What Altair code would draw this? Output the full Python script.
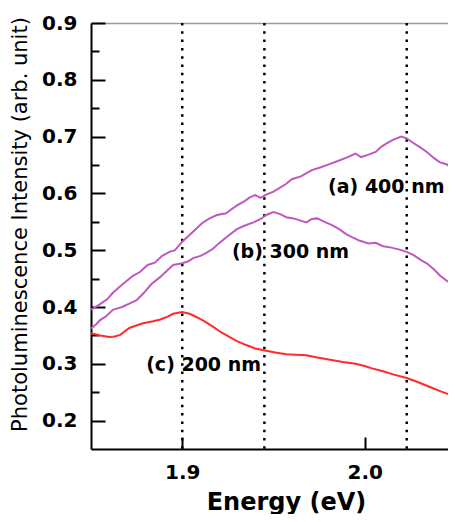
import altair as alt
import pandas as pd

# ---- data ----
energy_a = [1.850, 1.855, 1.859, 1.862, 1.867, 1.873, 1.877, 1.881, 1.885, 1.889,
            1.893, 1.896, 1.900, 1.905, 1.911, 1.915, 1.919, 1.924, 1.927, 1.930,
            1.934, 1.937, 1.940, 1.943, 1.946, 1.950, 1.953, 1.957, 1.960, 1.965,
            1.971, 1.976, 1.981, 1.986, 1.990, 1.995, 1.998, 2.001, 2.006, 2.009,
            2.012, 2.016, 2.020, 2.023, 2.026, 2.030, 2.034, 2.038, 2.041, 2.045, 2.050]
pl_a = [0.395, 0.405, 0.414, 0.425, 0.439, 0.455, 0.462, 0.474, 0.478, 0.490,
        0.497, 0.500, 0.515, 0.530, 0.548, 0.556, 0.562, 0.565, 0.572, 0.579,
        0.586, 0.593, 0.597, 0.592, 0.598, 0.603, 0.609, 0.617, 0.625, 0.630,
        0.641, 0.646, 0.652, 0.658, 0.663, 0.670, 0.664, 0.667, 0.673, 0.682,
        0.688, 0.695, 0.700, 0.697, 0.690, 0.682, 0.673, 0.662, 0.655, 0.651, 0.638]

energy_b = [1.850, 1.853, 1.855, 1.858, 1.862, 1.865, 1.867, 1.871, 1.875, 1.879,
            1.883, 1.888, 1.892, 1.895, 1.900, 1.903, 1.906, 1.910, 1.913, 1.917,
            1.920, 1.925, 1.930, 1.934, 1.939, 1.943, 1.946, 1.950, 1.954, 1.957,
            1.961, 1.964, 1.968, 1.971, 1.974, 1.978, 1.982, 1.986, 1.990, 1.993,
            1.997, 2.002, 2.006, 2.010, 2.014, 2.019, 2.023, 2.027, 2.031, 2.034,
            2.038, 2.041, 2.045, 2.050]
pl_b = [0.362, 0.370, 0.377, 0.383, 0.395, 0.398, 0.400, 0.406, 0.412, 0.425,
        0.440, 0.453, 0.465, 0.474, 0.477, 0.480, 0.486, 0.490, 0.495, 0.503,
        0.512, 0.525, 0.537, 0.543, 0.549, 0.555, 0.562, 0.567, 0.563, 0.558,
        0.556, 0.553, 0.549, 0.555, 0.556, 0.550, 0.544, 0.537, 0.528, 0.523,
        0.517, 0.512, 0.513, 0.507, 0.505, 0.501, 0.497, 0.491, 0.482, 0.477,
        0.466, 0.456, 0.446, 0.439]

energy_c = [1.850, 1.855, 1.860, 1.863, 1.866, 1.871, 1.878, 1.884, 1.888, 1.892,
            1.895, 1.900, 1.904, 1.908, 1.912, 1.917, 1.921, 1.926, 1.930, 1.935,
            1.940, 1.946, 1.951, 1.957, 1.962, 1.968, 1.974, 1.981, 1.988, 1.995,
            2.000, 2.004, 2.010, 2.016, 2.023, 2.029, 2.035, 2.042, 2.050]
pl_c = [0.354, 0.350, 0.347, 0.348, 0.351, 0.363, 0.371, 0.375, 0.378, 0.383,
        0.388, 0.391, 0.388, 0.382, 0.375, 0.365, 0.356, 0.347, 0.340, 0.333,
        0.327, 0.323, 0.320, 0.317, 0.316, 0.315, 0.311, 0.307, 0.303, 0.300,
        0.296, 0.292, 0.287, 0.281, 0.275, 0.268, 0.260, 0.251, 0.242]

vline_energy = [1.9, 1.945, 2.023]

label_text = ["(a) 400 nm", "(b) 300 nm", "(c) 200 nm"]
label_energy = [2.0118, 1.9593, 1.9117]
label_pl = [0.611, 0.497, 0.298]

x_ticks = [1.9, 2.0]
y_ticks = [0.2, 0.3, 0.4, 0.5, 0.6, 0.7, 0.8, 0.9]
y_minor = [0.25, 0.35, 0.45, 0.55, 0.65, 0.75, 0.85]

x_domain = [1.85, 2.05]
y_domain = [0.15, 0.9]

# ---- tables ----
df_a = pd.DataFrame({"e": energy_a, "pl": pl_a})
df_b = pd.DataFrame({"e": energy_b, "pl": pl_b})
df_c = pd.DataFrame({"e": energy_c, "pl": pl_c})
df_v = pd.DataFrame({"e": vline_energy})
df_lab = pd.DataFrame({"e": label_energy, "pl": label_pl, "t": label_text})

xs = alt.Scale(domain=x_domain, nice=False, zero=False)
ys = alt.Scale(domain=y_domain, nice=False, zero=False)

FONT = "DejaVu Sans"

main_x = alt.Axis(orient="bottom", values=x_ticks, format=".1f", ticks=False, tickSize=0,
                  labelPadding=13, labelFont=FONT, labelFontWeight="bold", labelFontSize=20,
                  labelColor="black", labelFlush=False, labelOverlap=False,
                  domain=True, domainColor="black", domainWidth=2, grid=False,
                  title="Energy (eV)", titleFont=FONT, titleFontWeight="bold",
                  titleFontSize=24, titleColor="black", titleX=195, titleY=60,
                  titleAlign="center", titleBaseline="alphabetic", titleAngle=0)

main_y = alt.Axis(orient="left", values=y_ticks, format=".1f", ticks=False, tickSize=0,
                  labelPadding=14, labelFont=FONT, labelFontWeight="bold", labelFontSize=20,
                  labelColor="black", labelFlush=False, labelOverlap=False,
                  domain=True, domainColor="black", domainWidth=2, grid=False,
                  title="Photoluminescence Intensity (arb. unit)", titleFont=FONT,
                  titleFontWeight="normal", titleFontSize=21, titleColor="black",
                  titleX=-65, titleY=201, titleAlign="center", titleBaseline="alphabetic",
                  titleAngle=270)

tick_x = alt.Axis(orient="bottom", offset=-12, values=x_ticks, ticks=True, tickSize=12,
                  tickWidth=2, tickColor="black", labels=False, domain=False, grid=False,
                  title=None)
top_x = alt.Axis(orient="top", ticks=False, labels=False, domain=True,
                 domainColor="#9a9a9a", domainWidth=1.5, grid=False, title=None)
tick_y = alt.Axis(orient="left", offset=-14, values=y_ticks, ticks=True, tickSize=14,
                  tickWidth=2, tickColor="black", labels=False, domain=False, grid=False,
                  title=None)
tick_y_minor = alt.Axis(orient="left", offset=-8, values=y_minor, ticks=True, tickSize=8,
                        tickWidth=2, tickColor="black", labels=False, domain=False,
                        grid=False, title=None)

PURPLE = "#bf58bf"
RED = "#ff2a2a"

vrules = alt.Chart(df_v).mark_rule(color="black", strokeWidth=2.5,
                                   strokeDash=[2.5, 5.8]).encode(
    x=alt.X("e:Q", scale=xs, axis=tick_x)
)

line_a = alt.Chart(df_a).mark_line(color=PURPLE, strokeWidth=2, clip=True).encode(
    x=alt.X("e:Q", scale=xs, axis=main_x),
    y=alt.Y("pl:Q", scale=ys, axis=main_y),
)
line_b = alt.Chart(df_b).mark_line(color=PURPLE, strokeWidth=2, clip=True).encode(
    x=alt.X("e:Q", scale=xs, axis=top_x),
    y=alt.Y("pl:Q", scale=ys, axis=tick_y),
)
line_c = alt.Chart(df_c).mark_line(color=RED, strokeWidth=2, clip=True).encode(
    x=alt.X("e:Q", scale=xs, axis=None),
    y=alt.Y("pl:Q", scale=ys, axis=tick_y_minor),
)
labels = alt.Chart(df_lab).mark_text(font=FONT, fontWeight="bold", fontSize=19,
                                     color="black", align="center",
                                     baseline="middle").encode(
    x=alt.X("e:Q", scale=xs, axis=None),
    y=alt.Y("pl:Q", scale=ys, axis=None),
    text="t:N",
)

chart = alt.layer(vrules, line_a, line_b, line_c, labels).resolve_axis(
    x="independent", y="independent"
).properties(
    width=365,
    height=426,
    autosize=alt.AutoSizeParams(type="none"),
    padding={"left": 83, "top": 15, "right": -8, "bottom": 65},
).configure_view(stroke=None)

chart.save("out.html", embed_options={"renderer": "svg", "actions": False})
